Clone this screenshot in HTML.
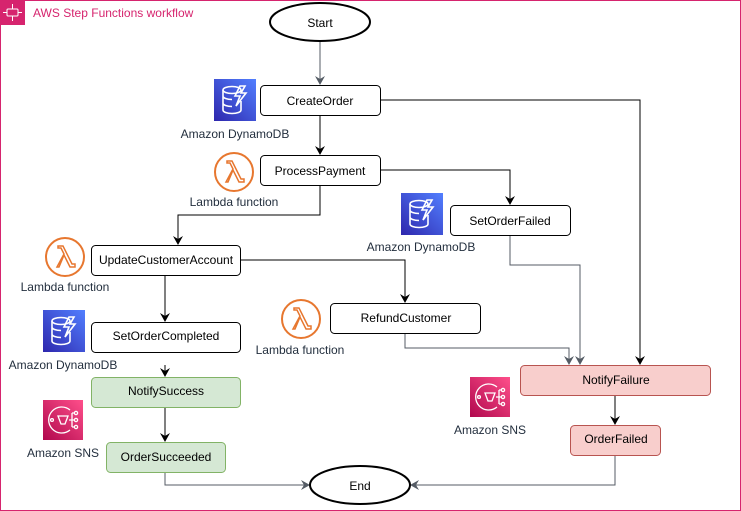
<!DOCTYPE html>
<html><head><meta charset="utf-8"><style>
html,body{margin:0;padding:0;background:#fff;}
svg{display:block;font-family:"Liberation Sans",sans-serif;}
</style></head><body>
<svg width="741" height="511" viewBox="0 0 741 511" xmlns="http://www.w3.org/2000/svg">
<defs>
<marker id="ab" markerWidth="10" markerHeight="10" refX="8" refY="5" orient="auto" markerUnits="userSpaceOnUse"><path d="M0,0 L9,5 L0,10 L3,5 Z" fill="#000"/></marker>
<marker id="ag" markerWidth="10" markerHeight="10" refX="8" refY="5" orient="auto" markerUnits="userSpaceOnUse"><path d="M0,0 L9,5 L0,10 L3,5 Z" fill="#545b64"/></marker>
<g id="ddb"><rect width="42" height="42" fill="#3b48cc"/><rect width="42" height="42" fill="url(#gd)"/>
<g fill="none" stroke="#fff" stroke-width="1.6"><ellipse cx="18" cy="11" rx="9" ry="3.5"/><path d="M9 11v20c0 2 4 3.5 9 3.5s9-1.5 9-3.5V22M9 17c0 2 4 3.5 9 3.5M9 24c0 2 4 3.5 9 3.5"/><path d="M26 7l-5 10h5l-4 10 10-13h-5l4-7z"/></g></g>
<linearGradient id="gd" x1="0" y1="1" x2="1" y2="0"><stop offset="0" stop-color="#2e27ad"/><stop offset="1" stop-color="#527fff"/></linearGradient>
<linearGradient id="gs" x1="0" y1="1" x2="1" y2="0"><stop offset="0" stop-color="#b0084d"/><stop offset="1" stop-color="#ff4f8b"/></linearGradient>
<g id="lam"><circle cx="20" cy="20" r="19" fill="none" stroke="#e7772f" stroke-width="2"/><path d="M12 30l7-13-3-6h-3v-2h5l9 18h3v3h-5l-6-12-5 12z" fill="none" stroke="#e7772f" stroke-width="1.5"/></g>
<g id="sns"><rect width="40" height="40" fill="url(#gs)"/><g fill="none" stroke="#fff" stroke-width="1.3"><path d="M27 10a13 13 0 1 0 0 20"/><path d="M15 16h10l-3 8h-4z"/><path d="M26 20h5M29 13v14M29 13h3M29 27h3"/><circle cx="33" cy="13" r="1.6"/><circle cx="33" cy="20" r="1.6"/><circle cx="33" cy="27" r="1.6"/><circle cx="9" cy="20" r="1.4"/></g></g>
</defs>
<rect x="0.5" y="0.5" width="740" height="510" fill="#fff" stroke="#d6246e"/>
<rect x="0" y="0" width="25" height="25" fill="#d6246e"/>
<g stroke="#fff" fill="none" stroke-width="1"><rect x="7" y="9" width="11" height="7" rx="1"/><path d="M3 12.5h4M18 12.5h4M12.5 4v5M12.5 16v5"/></g>
<text x="33" y="17" font-size="12" fill="#d6246e">AWS Step Functions workflow</text>

<g fill="none" stroke-width="1">
<path d="M320 42V84" stroke="#545b64" marker-end="url(#ag)"/>
<path d="M320 115V154" stroke="#000" marker-end="url(#ab)"/>
<path d="M380 100H640V364" stroke="#000" marker-end="url(#ab)"/>
<path d="M380 170H510V204" stroke="#000" marker-end="url(#ab)"/>
<path d="M320 185V215H178V244" stroke="#000" marker-end="url(#ab)"/>
<path d="M240 260H405V302" stroke="#000" marker-end="url(#ab)"/>
<path d="M165 275V321" stroke="#000" marker-end="url(#ab)"/>
<path d="M165 365V376" stroke="#000" marker-end="url(#ab)"/>
<path d="M165 407V441" stroke="#000" marker-end="url(#ab)"/>
<path d="M615 395V424" stroke="#000" marker-end="url(#ab)"/>
<path d="M510 235V265H580V364" stroke="#545b64" marker-end="url(#ag)"/>
<path d="M405 333V348H569V364" stroke="#545b64" marker-end="url(#ag)"/>
<path d="M165 472V485H309" stroke="#545b64" marker-end="url(#ag)"/>
<path d="M615 455V485H411" stroke="#545b64" marker-end="url(#ag)"/>
</g>

<ellipse cx="320" cy="22" rx="50" ry="19" fill="#fff" stroke="#000" stroke-width="2"/>
<text x="320" y="27" font-size="12" text-anchor="middle">Start</text>
<ellipse cx="360" cy="485" rx="50" ry="19" fill="#fff" stroke="#000" stroke-width="2"/>
<text x="360" y="490" font-size="12" text-anchor="middle">End</text>

<g font-size="12" text-anchor="middle" stroke-width="1">
<rect x="260.5" y="85.5" width="120" height="30" rx="4" fill="#fff" stroke="#000"/><text x="320" y="105">CreateOrder</text>
<rect x="260.5" y="155.5" width="120" height="30" rx="4" fill="#fff" stroke="#000"/><text x="320" y="175">ProcessPayment</text>
<rect x="450.5" y="205.5" width="120" height="30" rx="4" fill="#fff" stroke="#000"/><text x="510" y="225">SetOrderFailed</text>
<rect x="91.5" y="245.5" width="149" height="30" rx="4" fill="#fff" stroke="#000"/><text x="166" y="264">UpdateCustomerAccount</text>
<rect x="330.5" y="303.5" width="150" height="30" rx="4" fill="#fff" stroke="#000"/><text x="406" y="322">RefundCustomer</text>
<rect x="91.5" y="322.5" width="149" height="30" rx="4" fill="#fff" stroke="#000"/><text x="166" y="340">SetOrderCompleted</text>
<rect x="91.5" y="377.5" width="149" height="30" rx="4" fill="#d5e8d4" stroke="#82b366"/><text x="166" y="395">NotifySuccess</text>
<rect x="106.5" y="442.5" width="119" height="30" rx="4" fill="#d5e8d4" stroke="#82b366"/><text x="166" y="461">OrderSucceeded</text>
<rect x="520.5" y="365.5" width="190" height="30" rx="4" fill="#f8cecc" stroke="#b85450"/><text x="616" y="384">NotifyFailure</text>
<rect x="570.5" y="425.5" width="90" height="30" rx="4" fill="#f8cecc" stroke="#b85450"/><text x="616" y="443">OrderFailed</text>
</g>

<use href="#ddb" x="214" y="79"/>
<use href="#lam" x="214" y="152"/>
<use href="#ddb" x="401" y="193"/>
<use href="#lam" x="45" y="237"/>
<use href="#lam" x="281" y="299"/>
<use href="#ddb" x="43" y="310"/>
<use href="#sns" x="43" y="400"/>
<use href="#sns" x="470" y="377"/>

<g font-size="12" fill="#232f3e" text-anchor="middle">
<text x="235" y="138">Amazon DynamoDB</text>
<text x="234" y="206">Lambda function</text>
<text x="421" y="251">Amazon DynamoDB</text>
<text x="65" y="291">Lambda function</text>
<text x="300" y="354">Lambda function</text>
<text x="63" y="369">Amazon DynamoDB</text>
<text x="63" y="457">Amazon SNS</text>
<text x="490" y="434">Amazon SNS</text>
</g>
</svg>
</body></html>
